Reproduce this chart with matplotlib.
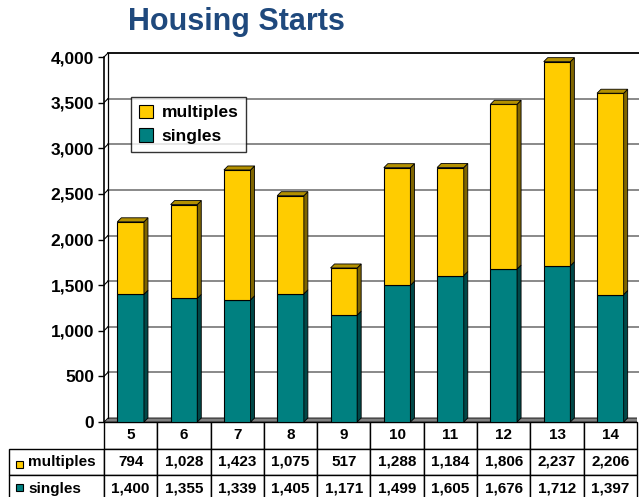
import matplotlib.pyplot as plt
from matplotlib.patches import Polygon, Rectangle

years = ['5', '6', '7', '8', '9', '10', '11', '12', '13', '14']
multiples = [794, 1028, 1423, 1075, 517, 1288, 1184, 1806, 2237, 2206]
singles = [1400, 1355, 1339, 1405, 1171, 1499, 1605, 1676, 1712, 1397]
yticks = [0, 500, 1000, 1500, 2000, 2500, 3000, 3500, 4000]

plt.rcParams['font.family'] = ['Liberation Sans', 'DejaVu Sans']
plt.rcParams['font.weight'] = 'bold'

W, H = 639, 497
fig = plt.figure(figsize=(W / 100, H / 100), dpi=100)

# axes geometry in pixels (front plane: 0 at y=422, 4000 at y=57)
left_px, right_px, bot_px = 104, 637, 422
ypp = 4000 / 365.0          # data units per pixel (y)
xpp = 10 / (right_px - left_px)
depth = 4                   # 3d depth in pixels
dx, dy = depth * xpp, depth * ypp
ytop = 4000 + dy
top_px = bot_px - ytop / ypp

ax = fig.add_axes([left_px / W, 1 - bot_px / H, (right_px - left_px) / W, (bot_px - top_px) / H])
ax.set_xlim(-0.5, 9.5)
ax.set_ylim(0, ytop)
for s in ax.spines.values():
    s.set_visible(False)
ax.set_xticks([])
ax.set_yticks(yticks)
ax.set_yticklabels([f'{v:,}' for v in yticks], fontsize=12.5, fontweight='bold')
ax.tick_params(axis='y', direction='out', length=4, width=1, pad=3)

# floor
ax.add_patch(Polygon([(-0.5, 0), (9.5, 0), (9.5 + dx, dy), (-0.5 + dx, dy)],
                     closed=True, fc='#808080', ec='black', lw=0.6, zorder=1))
# back wall gridlines
for v in yticks[1:]:
    col = 'black' if v == 4000 else '#808080'
    ax.plot([-0.5 + dx, 9.7 + dx], [v + dy, v + dy], color=col, lw=1.3, zorder=1, clip_on=False)
    ax.plot([-0.5, -0.5 + dx], [v, v + dy], color='black', lw=0.8, zorder=1)
ax.plot([-0.5 + dx, -0.5 + dx], [dy, 4000 + dy], color='black', lw=0.9, zorder=1)
ax.plot([-0.5, -0.5], [0, 4000], color='black', lw=1.2, zorder=2, clip_on=False)

# bars with pseudo-3d faces
x = list(range(len(years)))
bw = 0.5
ax.bar(x, singles, width=bw, color='#008080', edgecolor='black', lw=0.8, zorder=3, label='singles')
ax.bar(x, multiples, width=bw, bottom=singles, color='#FFCC00', edgecolor='black', lw=0.8,
       zorder=3, label='multiples')
for i in x:
    r = i + bw / 2
    l = i - bw / 2
    s, m = singles[i], singles[i] + multiples[i]
    ax.add_patch(Polygon([(r, 0), (r + dx, dy), (r + dx, s + dy), (r, s)],
                         fc='#004848', ec='black', lw=0.6, zorder=3))
    ax.add_patch(Polygon([(r, s), (r + dx, s + dy), (r + dx, m + dy), (r, m)],
                         fc='#7F6500', ec='black', lw=0.6, zorder=3))
    ax.add_patch(Polygon([(l, m), (l + dx, m + dy), (r + dx, m + dy), (r, m)],
                         fc='#B39000', ec='black', lw=0.6, zorder=3))

h, lb = ax.get_legend_handles_labels()
leg = ax.legend(h[::-1], lb[::-1], loc='upper left',
                bbox_to_anchor=((131 - left_px) / (right_px - left_px), (bot_px - 97) / (bot_px - top_px)),
                borderaxespad=0, fancybox=False, frameon=True, edgecolor='black',
                prop={'size': 12.5, 'weight': 'bold'}, handlelength=0.8, handleheight=0.8,
                handletextpad=0.5, labelspacing=0.45, borderpad=0.45)
leg.get_frame().set_linewidth(1)
for p in leg.get_patches():
    p.set_edgecolor('black')
    p.set_linewidth(0.8)

fig.text(236 / W, 1 - 22 / H, 'Housing Starts', ha='center', va='center',
         fontsize=22, color='#1F497D', fontweight='bold')

# data table (bbox covers the data grid incl. header row; row labels hang to the left)
tl, tt, tb = 10, 422, 502
axh = bot_px - top_px
axw = right_px - left_px
tbl = ax.table(cellText=[[f'{v:,}' for v in multiples], [f'{v:,}' for v in singles]],
               rowLabels=['multiples', 'singles'], colLabels=years,
               cellLoc='center', rowLoc='left',
               bbox=[0, -(tb - bot_px) / axh, 1, (tb - tt) / axh])
tbl.auto_set_font_size(False)
tbl.set_fontsize(11)
for (r, c), cell in tbl.get_celld().items():
    cell.set_linewidth(1)
    cell.set_edgecolor('black')
    cell.get_text().set_fontweight('bold')
    if c == -1:
        cell.set_width(0.1 * (left_px - tl) / (axw / 10))
        cell.PAD = 0.2

for fc, yc in [('#FFCC00', 464), ('#008080', 487)]:
    fig.add_artist(Rectangle((16 / W, 1 - (yc + 3.5) / H), 7 / W, 7 / H, fc=fc, ec='black',
                             lw=0.8, transform=fig.transFigure))

fig.savefig('out.png', dpi=100)
